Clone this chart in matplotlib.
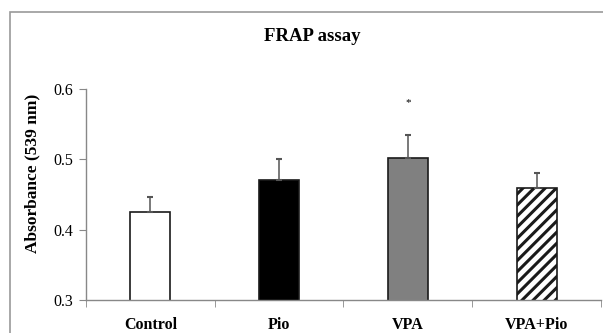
import matplotlib
matplotlib.use("Agg")
import matplotlib.pyplot as plt
from matplotlib.patches import Rectangle

# data
groups = ["Control", "Pio", "VPA", "VPA+Pio"]
means = [0.425, 0.470, 0.502, 0.460]
errs = [0.022, 0.030, 0.033, 0.020]
star_y = 0.581

fills = ["white", "black", "#808080", "white"]
hatches = [None, None, None, "///"]

plt.rcParams["font.family"] = ["Liberation Serif", "DejaVu Serif"]
plt.rcParams["hatch.linewidth"] = 2.2

fig = plt.figure(figsize=(6.03, 3.33), dpi=100)
ax = fig.add_axes([0.1426, 0.099, 0.8541, 0.6336])

# outer chart border
fig.patches.append(Rectangle((0.0166, -0.1), 2, 1.064, transform=fig.transFigure,
                             fill=False, edgecolor="#9a9a9a", lw=1.2))

x = range(len(groups))
ax.bar(x, means, width=0.31, color=fills, edgecolor="#1a1a1a", lw=1.2,
       hatch=hatches, zorder=2)
ax.errorbar(x, means, yerr=[[0] * len(errs), errs], fmt="none",
            ecolor="#555555", elinewidth=1.1, capsize=2, capthick=1.5, zorder=3)
ax.text(2, star_y, "*", ha="center", va="center", fontsize=8)

ax.set_ylim(0.3, 0.6)
ax.set_xlim(-0.5, 3.5)
ax.set_yticks([0.3, 0.4, 0.5, 0.6])
ax.set_yticklabels(["0.3", "0.4", "0.5", "0.6"], fontsize=11.5)
ax.set_xticks(list(x))
ax.set_xticklabels(groups, fontsize=11.5, fontweight="bold")
ax.set_xticks([-0.5, 0.5, 1.5, 2.5, 3.5], minor=True)
ax.tick_params(axis="x", which="major", length=0, pad=12)
ax.tick_params(axis="x", which="minor", length=5, color="#888888")
ax.tick_params(axis="y", length=5, color="#888888", pad=4)

for s in ["top", "right"]:
    ax.spines[s].set_visible(False)
for s in ["left", "bottom"]:
    ax.spines[s].set_color("#888888")
    ax.spines[s].set_linewidth(1)

ax.set_ylabel("Absorbance (539 nm)", fontsize=12.5, fontweight="bold")
ax.yaxis.set_label_coords(-0.088, 0.60)
fig.text(0.517, 0.889, "FRAP assay", ha="center", va="center",
         fontsize=13.5, fontweight="bold")

fig.savefig("out.png", dpi=100)
